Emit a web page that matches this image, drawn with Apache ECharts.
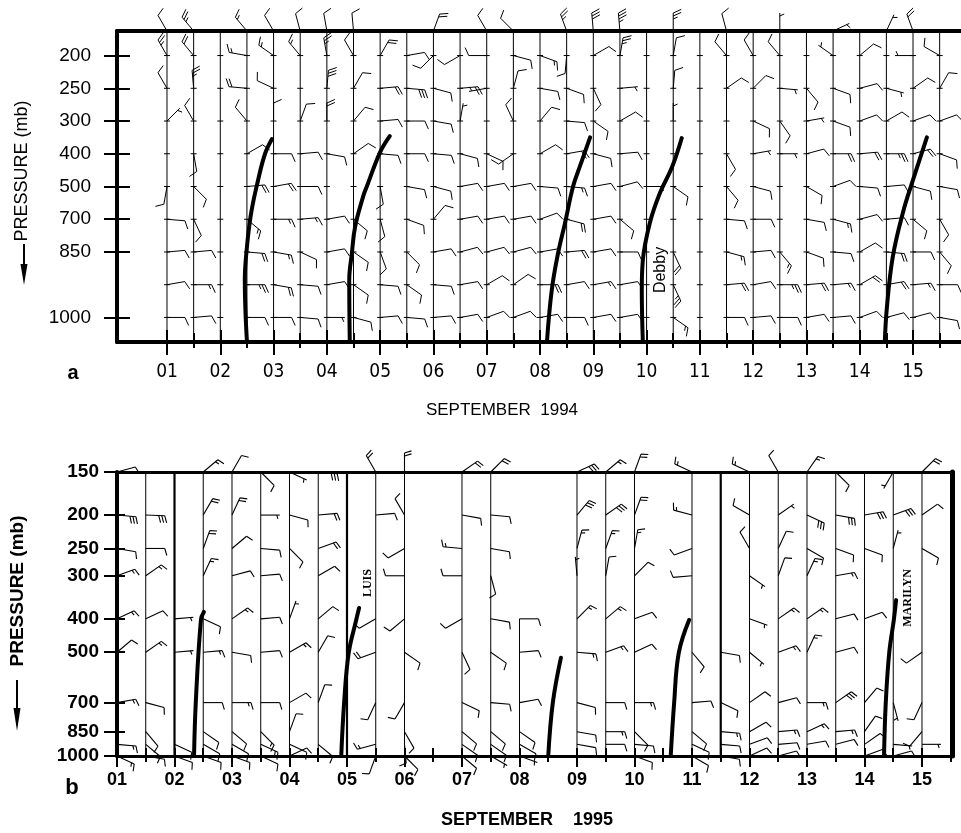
<!DOCTYPE html>
<html><head><meta charset="utf-8">
<script src="https://cdn.jsdelivr.net/npm/echarts@6/dist/echarts.min.js"></script>
<style>html,body{margin:0;padding:0;background:#fff}#c{width:961px;height:833px}</style>
</head><body><div id="c"></div>
<script>
// ---------------- Panel a : September 1994 ----------------
const A_TIMES = [1,1.5,2,2.5,3,3.5,4,4.5,5,5.5,6,6.5,7,7.5,8,8.5,9,9.5,10,10.5,11,11.5,12,12.5,13,13.5,14,14.5,15,15.5];
const A_ROWS = [1000,925,850,700,500,400,300,250,200];          // equally spaced rows, 150 on the top edge
const A_LABELED = [1000,850,700,500,400,300,250,200];
const A_DAYS = [1,2,3,4,5,6,7,8,9,10,11,12,13,14,15];
// wind [direction from (deg), speed (kt)] per sounding
const A_W150 = [[330,10],[320,25],null,[320,15],[330,10],[345,10],[350,10],[355,10],null,null,[20,20],null,[330,10],[315,10],null,[340,25],[355,30],[355,35],null,[0,25],null,[345,10],null,[0,5],null,[65,5],null,[25,5],[340,20],null];
const A_W200 = [[330,25],[320,20],null,[280,15],[305,15],[320,15],[350,25],[330,10],[30,20],[80,10],[225,10],[240,10],[270,10],[105,10],[110,15],[185,10],[60,10],[10,25],null,[10,10],null,[320,10],[330,10],[320,10],null,[305,5],[50,10],null,[270,5],[300,10]];
const A_W250 = [[330,10],[355,25],null,[275,20],[295,10],null,[5,30],[30,10],[85,20],[95,30],[105,10],[85,20],[260,5],[15,10],[100,10],[110,10],[155,10],[85,5],null,[5,10],null,[55,10],[45,10],[95,5],[140,10],[110,10],[75,10],[105,5],[55,10],[30,10]];
const A_W300 = [[45,5],[330,10],null,[320,10],[0,10],[20,10],[0,20],[40,10],[85,10],[90,10],[100,10],[10,5],null,[335,10],[40,10],[95,10],[125,10],[60,10],null,[0,5],null,null,[115,10],[145,10],[80,5],[110,10],[70,10],[60,10],[70,10],[70,10]];
const A_W400 = [null,[170,10],null,[60,10],[90,10],[85,10],[100,10],[55,10],[95,10],[90,10],[95,10],[105,10],[115,10],[235,10],[60,10],[80,20],[105,10],[85,10],null,null,null,[150,10],[80,5],[90,5],[75,10],[90,20],[85,20],[90,25],[75,20],[110,10]];
const A_W500 = [[190,10],[135,10],null,[85,20],[80,20],[90,10],null,null,[170,10],[100,10],[105,10],[80,10],[80,10],[80,10],[95,10],[95,15],[80,10],[75,10],[90,5],[125,10],null,[140,10],[105,10],null,[120,10],[70,10],[95,10],[85,10],[105,10],[100,10]];
const A_W700 = [[95,10],[155,10],null,[130,15],[90,15],[85,15],[80,10],[130,10],[165,10],[110,10],[40,10],[80,10],[80,10],[80,10],[70,10],[105,20],[80,10],[130,10],null,null,null,[95,10],[90,10],null,[100,10],[105,15],[75,10],[85,10],[130,10],[150,10]];
const A_W850 = [[85,10],[85,10],null,[95,20],[100,15],[115,10],[80,10],[125,10],[160,10],[135,10],[80,10],[75,10],[75,10],[75,10],[80,10],[85,20],[80,10],[90,10],null,[155,20],null,[105,15],[85,10],[140,15],[110,10],[95,10],[60,10],[95,20],[90,10],[140,10]];
const A_W925 = [[80,10],[90,15],null,[90,25],[100,20],[95,10],[80,10],[125,10],[95,10],[125,10],[95,10],[80,10],[60,10],[55,10],[90,20],[80,10],[80,15],[80,10],null,[155,25],null,[85,20],[80,10],[90,25],[85,20],[85,15],[60,20],[80,20],[85,15],[90,10]];
const A_W1000 = [[90,10],[85,10],null,[90,10],[90,10],[95,10],[90,5],[105,10],[85,10],[95,10],[85,10],[80,10],[70,10],[70,10],[80,10],[90,10],[80,10],[80,10],null,[125,15],null,[90,10],[85,10],[90,10],[80,10],[85,10],[70,10],[75,10],[75,10],[100,10]];
// storm axes [day, row position]
const STORM_A1 = [[2.50,-0.75],[2.46,1.14],[2.50,2.15],[2.58,3.2],[2.71,4.2],[2.84,5.0],[2.97,5.45]];
const STORM_A2 = [[4.43,-0.75],[4.42,1.14],[4.47,1.97],[4.53,2.77],[4.68,3.69],[4.75,4.0],[5.0,5.05],[5.18,5.54]];
const STORM_A3 = [[8.13,-0.75],[8.22,0.83],[8.34,1.97],[8.47,2.89],[8.62,4.0],[8.75,4.62],[8.94,5.5]];
const STORM_A4 = [[9.93,-0.75],[9.91,0.84],[9.93,1.75],[10.06,2.88],[10.25,3.80],[10.48,4.60],[10.66,5.48]];
const STORM_A5 = [[14.47,-0.75],[14.51,0.31],[14.62,1.85],[14.81,3.2],[15.0,4.2],[15.26,5.5]];

// ---------------- Panel b : September 1995 ----------------
const B_TIMES = [1,1.5,2,2.5,3,3.5,4,4.5,5,5.5,6,7,7.5,8,9,9.5,10,11,11.5,12,12.5,13,13.5,14,14.5,15];
const B_LINE_TOP = [150,150,150,150,150,150,150,150,150,150,150,150,150,400,150,150,150,150,150,150,150,150,150,150,150,150];
const B_HEAVY = [2,5,11.5];
const B_LEVELS = [150,200,250,300,400,500,700,850,1000];
const B_DAYS = [1,2,3,4,5,6,7,8,9,10,11,12,13,14,15];
const B_W150 = [[75,10],null,null,[50,15],[30,10],[135,10],[115,5],[95,30],null,[330,20],[0,20],[55,20],[45,20],null,[65,30],[50,15],[20,20],[295,15],null,[295,15],[330,10],[35,15],[135,10],null,[210,5],[45,20]];
const B_W200 = [[95,30],[92,30],null,[30,20],[25,20],[90,5],[105,10],[85,20],null,[85,10],[330,10],[100,10],[95,10],null,[40,30],[55,30],[20,20],[285,15],null,[300,10],[55,5],[115,30],[100,30],[80,30],[70,30],[55,10]];
const B_W250 = [[100,10],[90,10],null,[20,20],[50,10],[95,10],[135,10],[70,20],null,null,[240,10],[275,15],[100,10],null,[15,15],[20,15],[10,15],[250,10],null,[330,10],[25,10],[120,10],[110,10],[110,10],[15,5],[120,10]];
const B_W300 = [[70,15],[55,15],null,[25,15],[75,10],[85,10],null,[60,10],null,null,[270,10],[270,10],[165,10],null,[355,5],[10,10],[45,10],[265,10],null,[125,5],[20,10],[25,15],[80,15],null,null,null];
const B_W400 = [[65,15],[65,10],[85,5],[115,10],[55,15],[85,10],[20,5],[50,10],null,[240,10],[230,10],[240,10],[100,10],[90,10],[45,15],[50,15],[70,10],null,null,[110,5],[55,15],[55,15],[75,10],[70,10],null,null];
const B_W500 = [[50,10],[55,15],[85,5],[85,15],[100,10],[85,10],[60,15],[30,10],null,[250,20],[125,10],[155,10],[125,10],[85,10],[95,15],[70,15],[65,10],[140,10],[100,10],[130,5],[70,15],[25,15],[75,10],null,null,[235,10]];
const B_W700 = [[80,15],[105,10],null,[90,10],[90,15],[90,10],[60,10],[20,10],null,[205,10],[210,10],[115,10],[95,10],[80,10],[105,10],[90,10],[90,15],[85,10],[115,10],[55,10],[75,10],[90,15],[55,30],[40,10],[165,5],[205,10]];
const B_W850 = [null,[140,10],null,[125,10],[130,10],[135,15],[20,10],null,null,null,[150,10],[130,10],[130,10],[125,10],[100,10],[90,15],[135,10],[130,10],[95,15],[60,10],[85,15],[65,15],[85,15],[35,10],null,[220,10]];
const B_W925 = [[95,15],[130,10],[115,10],[120,10],[120,10],[115,15],[115,10],[130,10],null,[255,15],[175,10],[125,10],[125,10],[120,10],[100,10],[90,10],[95,10],[115,10],[95,10],[70,10],[85,10],[80,10],[75,10],[55,10],[95,5],[90,5]];
const B_W1000 = [[115,15],[100,10],[110,10],[110,10],[110,10],[115,10],[65,10],null,null,[200,10],[135,10],[130,10],[120,5],[110,5],null,null,[110,10],[120,10],[100,10],[65,10],[75,10],null,null,[70,10],[75,10],null];
// storm axes [day, pressure mb]
const STORM_B1 = [[2.34,1000],[2.37,700],[2.46,402],[2.51,382]];
const STORM_B2 = [[4.90,1000],[4.95,700],[5.03,502],[5.16,403],[5.21,372]];
const STORM_B3 = [[8.50,1000],[8.58,700],[8.72,519]];
const STORM_B4 = [[10.63,1000],[10.69,700],[10.77,502],[10.95,403]];
const STORM_B5 = [[14.34,1000],[14.37,700],[14.43,502],[14.51,403],[14.55,353]];

// ---------------- build ----------------
const A_TOP = 8.75, A_BOT = -0.75;
function aPos(p) { return p === 150 ? A_TOP : A_ROWS.indexOf(p); }
const A_TABLE = {150:A_W150,200:A_W200,250:A_W250,300:A_W300,400:A_W400,500:A_W500,700:A_W700,850:A_W850,925:A_W925,1000:A_W1000};
const B_TABLE = {150:B_W150,200:B_W200,250:B_W250,300:B_W300,400:B_W400,500:B_W500,700:B_W700,850:B_W850,925:B_W925,1000:B_W1000};
const aBarbs = [], bBarbs = [];
Object.keys(A_TABLE).forEach(k => A_TABLE[k].forEach((w, i) => { if (w) aBarbs.push([A_TIMES[i], aPos(+k), w[0], w[1]]); }));
Object.keys(B_TABLE).forEach(k => B_TABLE[k].forEach((w, i) => { if (w) bBarbs.push([B_TIMES[i], Math.log(+k), w[0], w[1]]); }));
const pad = v => (v < 10 ? '0' : '') + v;
const HALF_A = A_DAYS.map(d => d + 0.5);
const HALF_B = B_DAYS.map(d => d + 0.5);

function barbRender(cfg) {
  return function (params, api) {
    const p = api.coord([api.value(0), api.value(1)]);
    const dr = api.value(2) * Math.PI / 180, spd = api.value(3);
    const ux = Math.sin(dr), uy = -Math.cos(dr);
    const nx = -uy, ny = ux;
    const L = cfg.staff, F = cfg.feather, G = cfg.gap, T = cfg.tilt;
    const tip = [p[0] + ux * L, p[1] + uy * L];
    const st = { stroke: '#000', lineWidth: cfg.lw, fill: null };
    const ch = [{ type: 'line', shape: { x1: p[0], y1: p[1], x2: tip[0], y2: tip[1] }, style: st }];
    let s = Math.round(spd / 5) * 5;
    const flags = Math.floor(s / 50); s -= flags * 50;
    const full = Math.floor(s / 10); s -= full * 10;
    const half = s >= 5;
    const at = dd => [tip[0] - ux * dd, tip[1] - uy * dd];
    let d = 0;
    for (let i = 0; i < flags; i++) {
      const a = at(d), b = at(d + G * 1.7);
      ch.push({ type: 'polygon', shape: { points: [a, [a[0] + nx * F + ux * F * T, a[1] + ny * F + uy * F * T], b] }, style: { fill: '#000', stroke: '#000', lineWidth: cfg.lw } });
      d += G * 2.2;
    }
    for (let i = 0; i < full; i++) {
      const a = at(d);
      ch.push({ type: 'line', shape: { x1: a[0], y1: a[1], x2: a[0] + nx * F + ux * F * T, y2: a[1] + ny * F + uy * F * T }, style: st });
      d += G;
    }
    if (half) {
      if (flags === 0 && full === 0) d = G;
      const a = at(d);
      ch.push({ type: 'line', shape: { x1: a[0], y1: a[1], x2: a[0] + (nx * F + ux * F * T) * 0.55, y2: a[1] + (ny * F + uy * F * T) * 0.55 }, style: st });
    }
    return { type: 'group', children: ch };
  };
}

function stormSeries(data, xi, yi) {
  return { type: 'line', xAxisIndex: xi, yAxisIndex: yi, data: data, smooth: 0.4, symbol: 'none',
           lineStyle: { color: '#000', width: 4, cap: 'round' }, z: 5, animation: false, silent: true };
}

const chart = echarts.init(document.getElementById('c'), null, { renderer: 'canvas' });
const lbl = (size, weight, family) => ({ color: '#000', fontSize: size, fontWeight: weight, fontFamily: family });
const AXL = (w) => ({ show: true, onZero: false, lineStyle: { color: '#000', width: w } });
const NOL = { show: false, onZero: false };

const option = {
  animation: false,
  backgroundColor: '#fff',
  grid: [
    { left: 117, top: 31, width: 850, height: 311, containLabel: false, outerBoundsMode: 'none', show: false },
    { left: 117, top: 472, width: 835, height: 284, containLabel: false, outerBoundsMode: 'none', show: false }
  ],
  xAxis: [
    // panel a
    { gridIndex: 0, type: 'value', min: 0.0617, max: 16.013, position: 'bottom', splitLine: { show: false }, axisLine: AXL(4),
      axisTick: { show: true, customValues: A_DAYS, length: 13, lineStyle: { color: '#000', width: 2 } },
      axisLabel: { customValues: A_DAYS, formatter: v => pad(Math.round(v)), margin: 21, ...lbl(19, 'normal', '"Liberation Sans Narrow","DejaVu Sans Condensed","Liberation Sans",sans-serif') } },
    { gridIndex: 0, type: 'value', min: 0.0617, max: 16.013, position: 'bottom', splitLine: { show: false }, axisLine: NOL,
      axisTick: { show: true, inside: true, customValues: A_DAYS, length: 12, lineStyle: { color: '#000', width: 2 } }, axisLabel: { show: false } },
    { gridIndex: 0, type: 'value', min: 0.0617, max: 16.013, position: 'bottom', splitLine: { show: false }, axisLine: NOL,
      axisTick: { show: true, customValues: HALF_A, length: 6, lineStyle: { color: '#000', width: 2 } }, axisLabel: { show: false } },
    { gridIndex: 0, type: 'value', min: 0.0617, max: 16.013, position: 'bottom', splitLine: { show: false }, axisLine: NOL,
      axisTick: { show: true, inside: true, customValues: HALF_A, length: 9, lineStyle: { color: '#000', width: 2 } }, axisLabel: { show: false } },
    { gridIndex: 0, type: 'value', min: 0.0617, max: 16.013, position: 'top', splitLine: { show: false }, axisLine: AXL(4),
      axisTick: { show: false }, axisLabel: { show: false } },
    // panel b
    { gridIndex: 1, type: 'value', min: 1, max: 15.522, position: 'bottom', splitLine: { show: false }, axisLine: AXL(3),
      axisTick: { show: true, customValues: B_DAYS, length: 11, lineStyle: { color: '#000', width: 2 } },
      axisLabel: { customValues: B_DAYS, formatter: v => pad(Math.round(v)), margin: 15, ...lbl(18, 'bold', '"Liberation Sans",Arial,sans-serif') } },
    { gridIndex: 1, type: 'value', min: 1, max: 15.522, position: 'bottom', splitLine: { show: false }, axisLine: NOL,
      axisTick: { show: true, inside: true, customValues: B_DAYS, length: 8, lineStyle: { color: '#000', width: 2 } }, axisLabel: { show: false } },
    { gridIndex: 1, type: 'value', min: 1, max: 15.522, position: 'bottom', splitLine: { show: false }, axisLine: NOL,
      axisTick: { show: true, customValues: HALF_B, length: 6, lineStyle: { color: '#000', width: 2 } }, axisLabel: { show: false } },
    { gridIndex: 1, type: 'value', min: 1, max: 15.522, position: 'bottom', splitLine: { show: false }, axisLine: NOL,
      axisTick: { show: true, inside: true, customValues: HALF_B, length: 8, lineStyle: { color: '#000', width: 2 } }, axisLabel: { show: false } },
    { gridIndex: 1, type: 'value', min: 1, max: 15.522, position: 'top', splitLine: { show: false }, axisLine: AXL(3),
      axisTick: { show: false }, axisLabel: { show: false } }
  ],
  yAxis: [
    { gridIndex: 0, type: 'value', min: A_BOT, max: A_TOP, position: 'left', splitLine: { show: false }, axisLine: AXL(4),
      axisTick: { show: true, customValues: A_LABELED.map(aPos), length: 13, lineStyle: { color: '#000', width: 2 } },
      axisLabel: { customValues: A_LABELED.map(aPos), formatter: v => String(A_ROWS[Math.round(v)]), margin: 26, ...lbl(19, 'normal', '"Liberation Sans",Arial,sans-serif') } },
    { gridIndex: 0, type: 'value', min: A_BOT, max: A_TOP, position: 'left', splitLine: { show: false }, axisLine: NOL,
      axisTick: { show: true, inside: true, customValues: A_LABELED.map(aPos), length: 13, lineStyle: { color: '#000', width: 2 } }, axisLabel: { show: false } },
    { gridIndex: 1, type: 'value', inverse: true, min: Math.log(150), max: Math.log(1000), position: 'left', splitLine: { show: false }, axisLine: AXL(4),
      axisTick: { show: true, customValues: B_LEVELS.map(Math.log), length: 13, lineStyle: { color: '#000', width: 2 } },
      axisLabel: { customValues: B_LEVELS.map(Math.log), formatter: v => String(Math.round(Math.exp(v))), margin: 18, ...lbl(19, 'bold', '"Liberation Sans",Arial,sans-serif') } },
    { gridIndex: 1, type: 'value', inverse: true, min: Math.log(150), max: Math.log(1000), position: 'left', splitLine: { show: false }, axisLine: NOL,
      axisTick: { show: true, inside: true, customValues: B_LEVELS.map(Math.log), length: 8, lineStyle: { color: '#000', width: 2 } }, axisLabel: { show: false } },
    { gridIndex: 1, type: 'value', inverse: true, min: Math.log(150), max: Math.log(1000), position: 'right', splitLine: { show: false }, axisLine: AXL(5),
      axisTick: { show: false }, axisLabel: { show: false } }
  ],
  series: [
    // panel a sounding lines with level marks
    { type: 'custom', xAxisIndex: 0, yAxisIndex: 0, silent: true, z: 2,
      data: A_TIMES.map(t => [t, 0]),
      renderItem: (params, api) => {
        const t = api.value(0);
        const top = api.coord([t, A_TOP]), bot = api.coord([t, A_BOT]);
        const ch = [{ type: 'line', shape: { x1: top[0], y1: top[1], x2: bot[0], y2: bot[1] }, style: { stroke: '#000', lineWidth: 1 } }];
        A_ROWS.forEach(p => { const c = api.coord([t, aPos(p)]);
          ch.push({ type: 'line', shape: { x1: c[0] - 3, y1: c[1], x2: c[0] + 3, y2: c[1] }, style: { stroke: '#000', lineWidth: 1 } }); });
        return { type: 'group', children: ch };
      } },
    { type: 'custom', xAxisIndex: 0, yAxisIndex: 0, silent: true, z: 3, data: aBarbs,
      renderItem: barbRender({ staff: 18, feather: 8, gap: 3, tilt: 0.45, lw: 1 }) },
    stormSeries(STORM_A1, 0, 0), stormSeries(STORM_A2, 0, 0), stormSeries(STORM_A3, 0, 0),
    stormSeries(STORM_A4, 0, 0), stormSeries(STORM_A5, 0, 0),
    { type: 'custom', xAxisIndex: 0, yAxisIndex: 0, silent: true, z: 6, data: [[10.27, 1.45]],
      renderItem: (params, api) => { const c = api.coord([api.value(0), api.value(1)]);
        return { type: 'text', x: c[0], y: c[1], rotation: Math.PI / 2,
          style: { text: 'Debby', font: '16px "Liberation Sans",Arial,sans-serif', fill: '#000', align: 'center', verticalAlign: 'middle', textAlign: 'center', textVerticalAlign: 'middle' } }; } },
    // panel b
    { type: 'custom', xAxisIndex: 5, yAxisIndex: 2, silent: true, z: 2,
      data: B_TIMES.map((t, i) => [t, Math.log(B_LINE_TOP[i])]),
      renderItem: (params, api) => {
        const t = api.value(0);
        const top = api.coord([t, api.value(1)]), bot = api.coord([t, Math.log(1000)]);
        return { type: 'line', shape: { x1: top[0], y1: top[1], x2: bot[0], y2: bot[1] },
                 style: { stroke: '#000', lineWidth: B_HEAVY.indexOf(t) >= 0 ? 2.2 : 1 } };
      } },
    { type: 'custom', xAxisIndex: 5, yAxisIndex: 2, silent: true, z: 3, data: bBarbs,
      renderItem: barbRender({ staff: 19, feather: 7, gap: 3, tilt: 0.3, lw: 1.1 }) },
    stormSeries(STORM_B1.map(d => [d[0], Math.log(d[1])]), 5, 2),
    stormSeries(STORM_B2.map(d => [d[0], Math.log(d[1])]), 5, 2),
    stormSeries(STORM_B3.map(d => [d[0], Math.log(d[1])]), 5, 2),
    stormSeries(STORM_B4.map(d => [d[0], Math.log(d[1])]), 5, 2),
    stormSeries(STORM_B5.map(d => [d[0], Math.log(d[1])]), 5, 2),
    { type: 'custom', xAxisIndex: 5, yAxisIndex: 2, silent: true, z: 6,
      data: [[5.37, Math.log(315), 'LUIS'], [14.76, Math.log(348), 'MARILYN']],
      dimensions: ['x', 'y', { name: 'n', type: 'ordinal' }],
      renderItem: (params, api) => { const c = api.coord([api.value(0), api.value(1)]);
        return { type: 'text', x: c[0], y: c[1], rotation: Math.PI / 2,
          style: { text: api.value(2), font: 'bold 12px "Liberation Serif","DejaVu Serif",serif', fill: '#000', align: 'center', verticalAlign: 'middle', textAlign: 'center', textVerticalAlign: 'middle' } }; } }
  ],
  graphic: [
    { type: 'text', x: 22, y: 171, rotation: Math.PI / 2, style: { text: 'PRESSURE (mb)', font: '18px "Liberation Sans",Arial,sans-serif', fill: '#000', align: 'center', verticalAlign: 'middle', textAlign: 'center', textVerticalAlign: 'middle' } },
    { type: 'line', shape: { x1: 24, y1: 244, x2: 24, y2: 268 }, style: { stroke: '#000', lineWidth: 2 } },
    { type: 'polygon', shape: { points: [[20.5, 264], [27.5, 264], [24, 285]] }, style: { fill: '#000' } },
    { type: 'text', x: 73, y: 373, style: { text: 'a', font: 'bold 20px "Liberation Sans",Arial,sans-serif', fill: '#000', align: 'center', verticalAlign: 'middle', textAlign: 'center', textVerticalAlign: 'middle' } },
    { type: 'text', x: 502, y: 410, style: { text: 'SEPTEMBER  1994', font: '17px "Liberation Sans",Arial,sans-serif', fill: '#000', align: 'center', verticalAlign: 'middle', textAlign: 'center', textVerticalAlign: 'middle' } },
    { type: 'text', x: 18, y: 591, rotation: Math.PI / 2, style: { text: 'PRESSURE (mb)', font: 'bold 19px "Liberation Sans",Arial,sans-serif', fill: '#000', align: 'center', verticalAlign: 'middle', textAlign: 'center', textVerticalAlign: 'middle' } },
    { type: 'line', shape: { x1: 17, y1: 680, x2: 17, y2: 712 }, style: { stroke: '#000', lineWidth: 2 } },
    { type: 'polygon', shape: { points: [[13.5, 708], [20.5, 708], [17, 731]] }, style: { fill: '#000' } },
    { type: 'text', x: 72, y: 788, style: { text: 'b', font: 'bold 22px "Liberation Sans",Arial,sans-serif', fill: '#000', align: 'center', verticalAlign: 'middle', textAlign: 'center', textVerticalAlign: 'middle' } },
    { type: 'text', x: 527, y: 820, style: { text: 'SEPTEMBER    1995', font: 'bold 18px "Liberation Sans",Arial,sans-serif', fill: '#000', align: 'center', verticalAlign: 'middle', textAlign: 'center', textVerticalAlign: 'middle' } }
  ]
};
chart.setOption(option);
</script></body></html>
